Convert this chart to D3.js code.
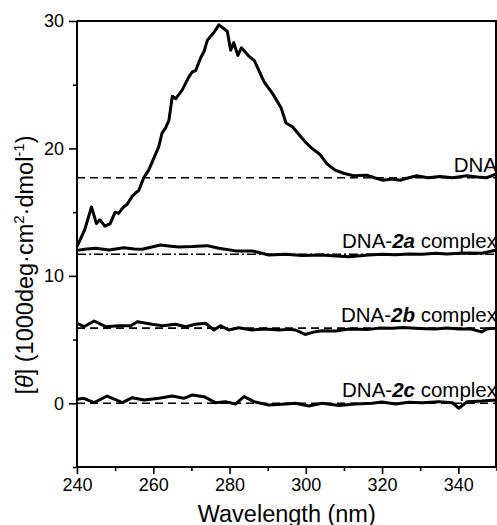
<!DOCTYPE html>
<html lang="en">
<head>
<meta charset="UTF-8">
<script src="https://cdn.jsdelivr.net/npm/d3@7"></script>
<style>
  body { margin: 0; background: #fff; }
  svg text { font-family: "Liberation Sans", Arial, sans-serif; fill: #000; }
</style>
</head>
<body>
<div id="fig"></div>
<script>
// CD spectra, [wavelength nm, theta]
const dna = [[240,12.3],[242,13.6],[243.8,15.4],[245.1,14.1],[246,14.4],[247.3,13.9],[248.7,14.1],[250,15.0],
  [250.9,14.9],[252.2,15.4],[253.1,15.6],[254.4,16.2],[255.3,16.5],[256.2,16.7],[257.5,17.7],[258.8,18.3],
  [260.1,19.2],[261.4,20.1],[262.3,21.2],[263.2,21.6],[264.1,22.2],[265,24.1],[265.9,23.9],[267.6,24.6],
  [269.3,25.6],[270.2,26.0],[271.1,26.1],[272.4,27.1],[273.3,27.6],[274.2,28.5],[275.9,29.1],[277.2,29.7],
  [279.4,29.2],[280.3,27.7],[281.1,28.3],[282.2,27.3],[283.1,27.9],[285.2,27.2],[286.5,26.9],[289.1,25.2],
  [291.3,24.3],[293.5,23.2],[294.8,22.0],[296.5,21.7],[298.2,21.1],[299.9,20.5],[301.6,20.0],[303.8,19.5],
  [305.5,18.8],[307.7,18.3],[309.9,18.05],[312.5,17.85],[316,17.9],[318,17.7],[320.3,17.5],[322.5,17.6],
  [324.7,17.5],[327,17.7],[329.1,17.85],[332,17.7],[335.2,17.8],[338.5,17.7],[342.2,17.85],[345,17.75],
  [347.4,17.7],[350,18.0]];
const dna2a = [[240,12.0],[242.5,12.1],[244.9,12.17],[248.4,12.03],[252.3,12.2],[255,12.1],[257.1,12.09],
  [261.9,12.42],[264,12.35],[266.7,12.27],[270.2,12.3],[274.1,12.37],[277.2,12.17],[281.6,11.96],[285.9,11.96],
  [290.3,11.64],[294.7,11.7],[299,11.6],[304.3,11.64],[308,11.55],[311.3,11.5],[316.5,11.64],[320,11.7],
  [323.5,11.65],[327,11.72],[330.5,11.7],[334,11.77],[337,11.72],[340.1,11.77],[343,11.8],[346.2,11.77],[350,12.03]];
const dna2b = [[240,6.28],[241.8,6.01],[244.5,6.46],[247.5,6.01],[251,6.09],[254.1,6.09],[255.8,6.4],
  [259.7,6.2],[262.4,6.09],[265.8,6.2],[268.5,6.01],[271.1,6.2],[273.7,6.28],[275.9,5.75],[277.6,6.09],
  [279.8,5.75],[282.4,5.93],[285.9,5.75],[289.4,5.83],[292.9,5.75],[295.5,5.8],[297.3,5.75],[299.8,5.4],
  [302.5,5.62],[304.3,5.7],[307.8,5.67],[311.3,5.83],[316.5,5.8],[319.5,5.9],[322.6,5.89],[325.5,5.95],
  [328.7,5.89],[331.5,5.85],[334,5.83],[337,5.9],[340.1,5.83],[343,5.85],[346.1,5.6],[347.6,5.85],[350,5.89]];
const dna2c = [[240,0.31],[241.8,0.39],[244.5,0.05],[247.9,0.57],[251.9,0.05],[254.5,0.44],[257.6,0.26],
  [261.5,0.39],[265,0.57],[268,0.39],[270.2,0.65],[273.3,0.52],[276.3,0.05],[278.9,0.13],[281.6,-0.05],
  [283.8,0.52],[286.4,0.13],[290.3,-0.13],[294.7,-0.05],[297.3,0.0],[300.8,-0.21],[304.3,0.0],[308.7,-0.18],
  [313,-0.05],[317.4,0.0],[320,0.1],[323.5,-0.05],[327,0.08],[330.5,0.05],[334.9,0.13],[338.4,0.05],
  [340.1,-0.39],[342.3,0.13],[346.2,0.18],[350,0.26]];

const baselines = [17.7, 11.7, 5.9, 0];
const labels = [["DNA", ""], ["DNA-", "2a"], ["DNA-", "2b"], ["DNA-", "2c"]];
const xTicks = [240, 260, 280, 300, 320, 340];
const yTicks = [0, 10, 20, 30];

const width = 497, height = 525;
const margin = {top: 21, right: 0.5, bottom: 58, left: 77};

const svg = d3.select("#fig").append("svg")
  .attr("width", width).attr("height", height);

const x = d3.scaleLinear().domain([240, 350]).range([margin.left, width - margin.right]);
const y = d3.scaleLinear().domain([-5, 30]).range([height - margin.bottom, margin.top]);

const line = d3.line().x(d => x(d[0])).y(d => y(d[1]));

// reference lines
const dashes = ["8,5", "9,3,2,3", "8,5", "8,5"];
svg.selectAll(".base").data(baselines).enter().append("line")
  .attr("class", "base")
  .attr("x1", x(240)).attr("x2", x(350))
  .attr("y1", d => y(d)).attr("y2", d => y(d))
  .attr("stroke", "#000").attr("stroke-width", 1.6)
  .attr("stroke-dasharray", (d, i) => dashes[i]);

// spectra
svg.selectAll(".spec").data([dna, dna2a, dna2b, dna2c]).enter().append("path")
  .attr("class", "spec")
  .attr("d", line)
  .attr("fill", "none").attr("stroke", "#000")
  .attr("stroke-width", 3).attr("stroke-linejoin", "round");

// series labels
labels.forEach((l, i) => {
  const t = svg.append("text")
    .attr("x", width).attr("y", y(baselines[i]) - 6)
    .attr("text-anchor", "end").style("font-size", "20.5px");
  t.append("tspan").text(l[0]);
  if (l[1]) {
    t.append("tspan").text(l[1]).style("font-weight", "bold").style("font-style", "italic");
    t.append("tspan").text(" complex");
  }
});

// axes
const xAxis = svg.append("g").attr("transform", `translate(0,${y(-5)})`)
  .call(d3.axisBottom(x).tickValues(xTicks).tickSize(7).tickPadding(4));
svg.append("g").attr("transform", `translate(0,${y(-5)})`)
  .call(d3.axisBottom(x).tickValues(d3.range(250, 351, 20)).tickSize(4).tickFormat(""))
  .select(".domain").remove();
const yAxis = svg.append("g").attr("transform", `translate(${x(240)},0)`)
  .call(d3.axisLeft(y).tickValues(yTicks).tickSize(8).tickPadding(5));
svg.append("g").attr("transform", `translate(${x(240)},0)`)
  .call(d3.axisLeft(y).tickValues([-5, 5, 15, 25]).tickSize(4).tickFormat(""))
  .select(".domain").remove();

svg.selectAll(".tick line").attr("stroke-width", 1.6);
svg.selectAll(".domain").attr("stroke-width", 2);
svg.selectAll(".tick text").style("font-size", "18px").attr("fill", "#000");
xAxis.select(".domain").attr("d", `M${x(240)},0H${x(350)}`);
yAxis.select(".domain").attr("d", `M0,${y(30)}V${y(-5)}`);

// frame top & right
svg.append("path")
  .attr("d", `M${x(240)},${y(30)}H${x(350) - 0.5}V${y(-5)}`)
  .attr("fill", "none").attr("stroke", "#000").attr("stroke-width", 2);

// axis titles
svg.append("text")
  .attr("x", (x(240) + x(350)) / 2).attr("y", 522)
  .attr("text-anchor", "middle").style("font-size", "23.5px")
  .text("Wavelength (nm)");

const yl = svg.append("text")
  .attr("transform", `translate(33,265) rotate(-90)`)
  .attr("text-anchor", "middle").style("font-size", "23.5px");
yl.append("tspan").text("[");
yl.append("tspan").text("θ").style("font-style", "italic");
yl.append("tspan").text("] (1000deg·cm");
yl.append("tspan").text("2").attr("dy", -9).style("font-size", "15px");
yl.append("tspan").text("·dmol").attr("dy", 9);
yl.append("tspan").text("-1").attr("dy", -9).style("font-size", "15px");
yl.append("tspan").text(")").attr("dy", 9);
</script>
</body>
</html>
